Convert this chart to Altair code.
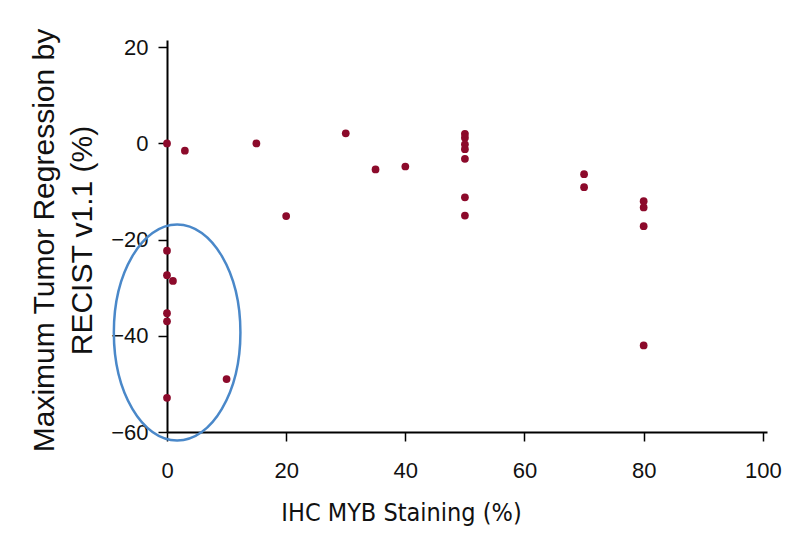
import altair as alt
import pandas as pd

# IHC MYB staining (%) and maximum tumor regression (%) per patient
staining = [0, 0, 0, 0, 0, 0, 1, 3, 10, 15, 20, 30, 35, 40,
            50, 50, 50, 50, 50, 50, 50, 70, 70, 80, 80, 80, 80]
regression = [0, -22.3, -27.4, -35.3, -37.0, -52.9, -28.6, -1.5, -49.0, 0, -15.1, 2.1, -5.4, -4.8,
              2.0, 1.2, -0.2, -1.2, -3.2, -11.2, -15.0, -6.4, -9.1, -12.0, -13.3, -17.2, -42.0]

x_ticks = [0, 20, 40, 60, 80, 100]
y_ticks = [-60, -40, -20, 0, 20]

# highlight ellipse annotation (center in data units)
ellipse_x = [1.7]
ellipse_y = [-39.3]

df = pd.DataFrame({"staining": staining, "regression": regression})
edf = pd.DataFrame({"staining": ellipse_x, "regression": ellipse_y})

a, k = 0.586, 0.5523
ak = a * k
ellipse_path = (f"M {a},0 C {a},{k} {ak},1 0,1 C {-ak},1 {-a},{k} {-a},0 "
                f"C {-a},{-k} {-ak},-1 0,-1 C {ak},-1 {a},{-k} {a},0 Z")

xscale = alt.Scale(domain=[0, 100.7], nice=False, zero=False)
yscale = alt.Scale(domain=[-60, 21.5], nice=False, zero=False)

xaxis = alt.Axis(
    values=x_ticks, title="IHC MYB Staining (%)",
    titleFont="DejaVu Sans Condensed, Liberation Sans, sans-serif",
    titleFontSize=25, titleFontWeight="normal", titleColor="#111111",
    titleX=234, titleY=80, titleBaseline="middle", titleAlign="center",
    labelPadding=19, labelFlush=False,
)
yaxis = alt.Axis(
    values=y_ticks, title=["Maximum Tumor Regression by", "RECIST v1.1 (%)"],
    titleFont="Liberation Sans, Arial, sans-serif", titleFontSize=30, titleFontWeight="normal",
    titleColor="#111111", titleLineHeight=38, titleAngle=-90,
    titleX=-123, titleY=200, titleBaseline="middle", titleAlign="center",
    labelPadding=10, labelFlush=False,
)

ellipse = alt.Chart(edf).mark_point(
    shape=ellipse_path, size=46656, filled=False, stroke="#4a88c9",
    strokeWidth=2.5, opacity=1,
).encode(
    x=alt.X("staining:Q", scale=xscale, axis=xaxis),
    y=alt.Y("regression:Q", scale=yscale, axis=yaxis),
)

points = alt.Chart(df).mark_circle(size=60, color="#8c0a2b", opacity=1).encode(
    x=alt.X("staining:Q", scale=xscale, axis=xaxis),
    y=alt.Y("regression:Q", scale=yscale, axis=yaxis),
)

chart = alt.layer(ellipse, points).properties(
    width=600, height=392,
    autosize=alt.AutoSizeParams(type="none"),
    padding={"left": 159, "top": 32, "right": 30, "bottom": 109},
    background="white",
).configure_view(stroke=None).configure_axis(
    grid=False, domainColor="black", domainWidth=2, tickColor="black",
    tickWidth=1.5, tickSize=9, labelFont="Liberation Sans", labelFontSize=22,
    labelColor="#111111",
)

chart.save("out.html", embed_options={"renderer": "svg", "actions": False})
